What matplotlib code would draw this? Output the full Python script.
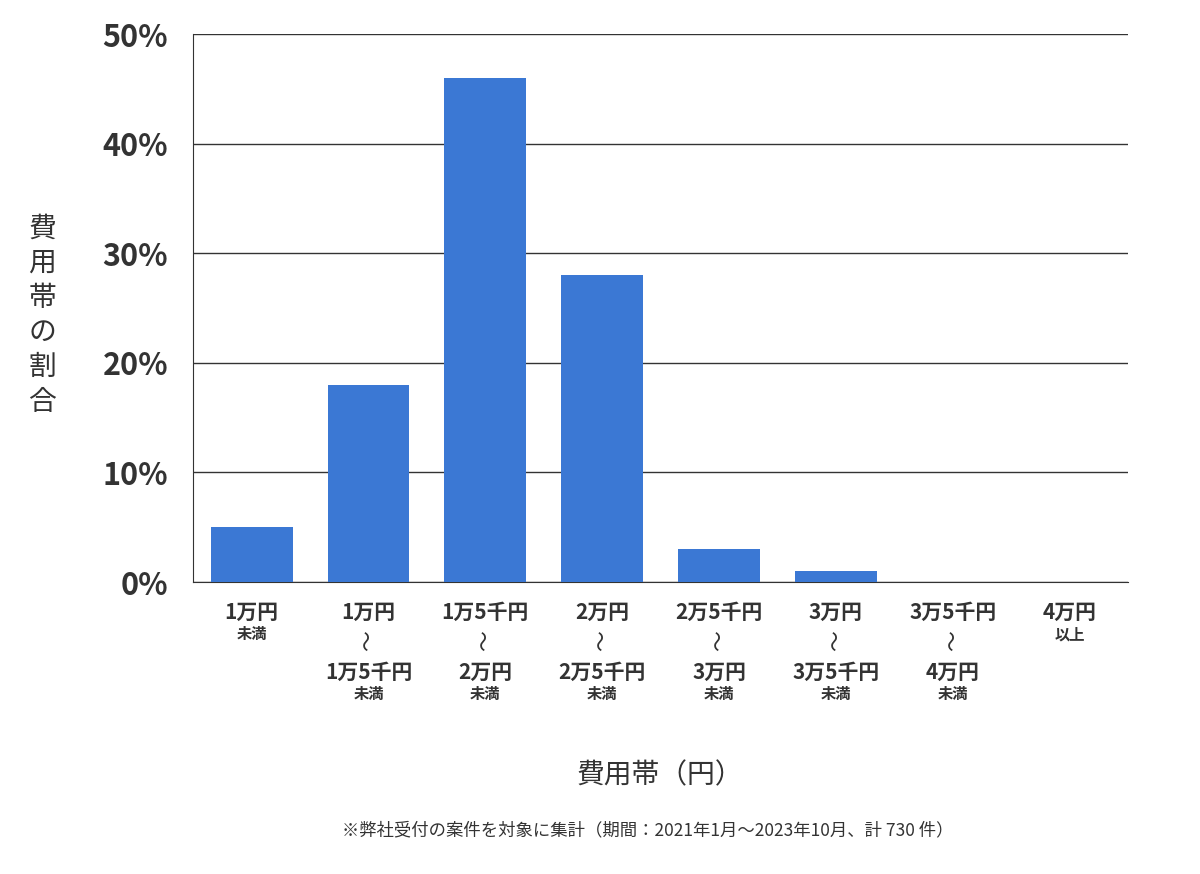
import matplotlib
matplotlib.use("Agg")
import matplotlib.pyplot as plt

plt.rcParams['font.family'] = ['Noto Sans CJK JP', 'DejaVu Sans']

values = [5, 18, 46, 28, 3, 1, 0, 0]
top_lines = ["1万円", "1万円", "1万5千円", "2万円", "2万5千円", "3万円", "3万5千円", "4万円"]
bottom_lines = ["", "1万5千円", "2万円", "2万5千円", "3万円", "3万5千円", "4万円", ""]
suffix = ["未満", "未満", "未満", "未満", "未満", "未満", "未満", "以上"]
yticks = [0, 10, 20, 30, 40, 50]

fig = plt.figure(figsize=(12, 8.74), dpi=100)
ax = fig.add_axes([0.161, 0.334, 0.779, 0.627])
x = list(range(len(values)))
ax.bar(x, values, width=0.7, color='#3b78d4', zorder=3)
ax.set_xlim(-0.5, len(values) - 0.5)
ax.set_ylim(0, 50)
ax.set_yticks(yticks)
ax.set_yticklabels([f"{v}%" for v in yticks], fontsize=22, fontweight='bold', color='#333333')
ax.yaxis.grid(True, color='#333333', linewidth=1, zorder=0)
for s in ['top', 'right']:
    ax.spines[s].set_visible(False)
ax.spines['left'].set_color('#333333')
ax.spines['bottom'].set_color('#333333')
ax.tick_params(axis='y', length=0, pad=18)
ax.tick_params(axis='x', length=0)
ax.set_xticks([])

tr = ax.get_xaxis_transform()
for i in x:
    y = -0.055
    ax.text(i, y, top_lines[i], transform=tr, ha='center', va='center', fontsize=15, fontweight='bold', color='#333333')
    if bottom_lines[i]:
        ax.text(i, y - 0.052, "〜", transform=tr, ha='center', va='center', fontsize=15, rotation=90, color='#333333')
        ax.text(i, y - 0.11, bottom_lines[i], transform=tr, ha='center', va='center', fontsize=15, fontweight='bold', color='#333333')
        ax.text(i, y - 0.15, suffix[i], transform=tr, ha='center', va='center', fontsize=11, fontweight='bold', color='#333333')
    else:
        ax.text(i, y - 0.04, suffix[i], transform=tr, ha='center', va='center', fontsize=11, fontweight='bold', color='#333333')

fig.text(0.035, 1 - 315/874, "費\n用\n帯\nの\n割\n合", ha='center', va='center', fontsize=20, color='#333333', linespacing=1.2)
fig.text(0.55, 1 - 775/874, "費用帯（円）", ha='center', va='center', fontsize=20, color='#333333')
fig.text(0.54, 1 - 830/874, "※弊社受付の案件を対象に集計（期間：2021年1月〜2023年10月、計 730 件）",
         ha='center', va='center', fontsize=12.5, color='#333333')
fig.savefig("out.png", dpi=100)
